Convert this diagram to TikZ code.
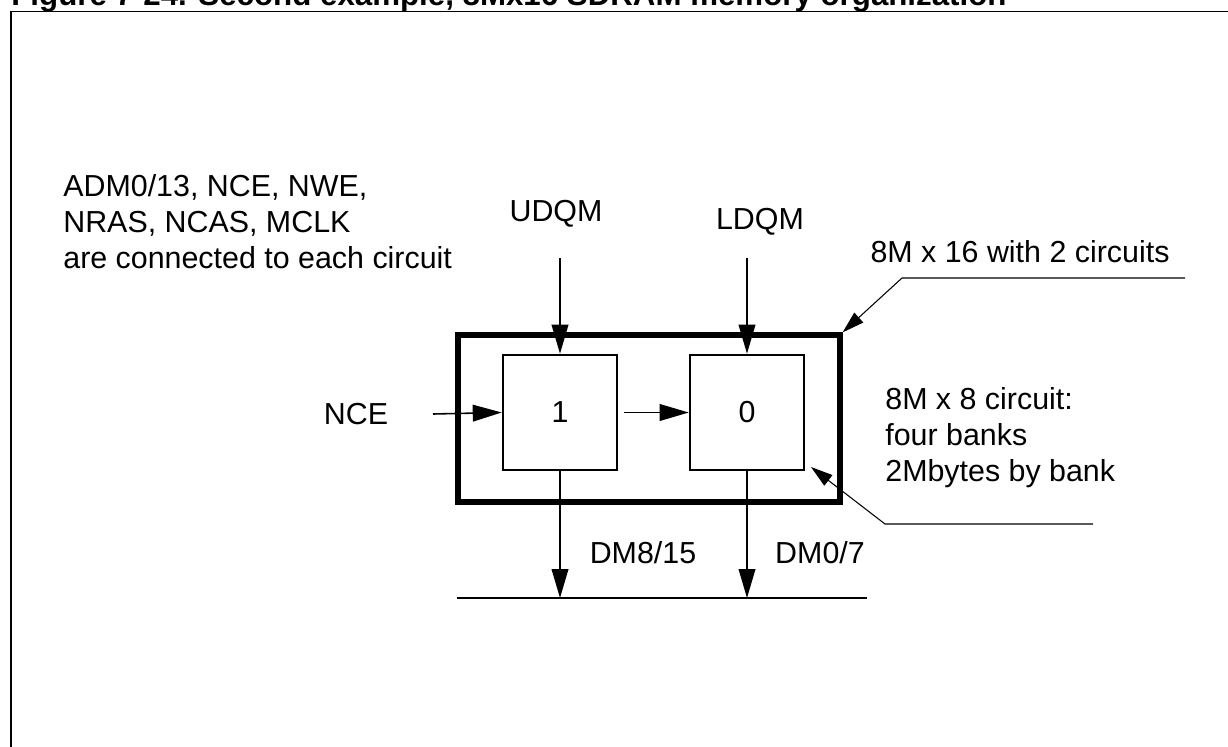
\documentclass[tikz,border=0pt]{standalone}
\usepackage{fontspec}
\setmainfont{Liberation Sans}
\usetikzlibrary{arrows.meta,positioning}

\begin{document}
\begin{tikzpicture}[x=0.02cm, y=-0.02cm,
  every node/.style={font=\fontsize{17.3}{20.5}\selectfont, inner sep=0pt},
  chip/.style={draw, line width=1.5pt, minimum width=2.28cm, minimum height=2.3cm},
  arr/.style={-{Triangle[length=16.5pt,width=9.5pt]}, line width=0.9pt},
  lead/.style={-{Triangle[length=12.5pt,width=7.5pt]}, line width=0.6pt}]
\useasboundingbox (0,0) rectangle (1228,747);
\begin{scope}
\clip (0,0) rectangle (1228,747);
% Title and frame
\node[anchor=base west, font=\fontsize{17.8}{21}\selectfont\bfseries] (title) at (11,6) {Figure 7-24. Second example, 8Mx16 SDRAM memory organization};
\draw[line width=1.1pt] (11,760) -- (11,11.5) -- (1240,11.5);
\end{scope}
% Circuits
\node[draw, line width=3pt, minimum width=7.64cm, minimum height=3.34cm] (mem) at (649,418.5) {};
\node[chip] (b1) at (560,412.5) {1};
\node[chip] (b0) at (747,412.5) {0};
% Signals
\node[anchor=west, align=left] (common) at (63,222) {ADM0/13, NCE, NWE,\\NRAS, NCAS, MCLK\\are connected to each circuit};
\node (udqm) at (556,214) {UDQM};
\node (ldqm) at (760,222) {LDQM};
\node (nce) at (356,414) {NCE};
\coordinate (uin) at (560,258);
\coordinate (lin) at (747,258);
\coordinate (nin) at (433,414);
\draw[arr] (uin) -- (b1.north);
\draw[arr] (lin) -- (b0.north);
\draw[arr] (nin) -- (b1.west);
\draw[arr, shorten <=3.4pt] (b1) -- (b0);
% Data bus
\coordinate (busL) at (457,598);
\coordinate (busR) at (867,598);
\draw[line width=0.9pt] (busL) -- (busR);
\draw[arr] (b1.south) -- (b1.south |- busL);
\draw[arr] (b0.south) -- (b0.south |- busL);
\node (dmh) at (643,553) {DM8/15};
\node (dml) at (820,553) {DM0/7};
% Callouts
\node (c16) at (1020,252) {8M x 16 with 2 circuits};
\node[anchor=west, align=left] (c8) at (885,438) {8M x 8 circuit:\\four banks\\2Mbytes by bank};
\coordinate (l1a) at (1185,278);
\coordinate (l1b) at (902,278);
\coordinate (l2a) at (1093,524);
\coordinate (l2b) at (885,524);
\coordinate (tip2) at (811,467);
\draw[lead] (l1a) -- (l1b) -- (mem.north east);
\draw[lead] (l2a) -- (l2b) -- (tip2);
\end{tikzpicture}
\end{document}
